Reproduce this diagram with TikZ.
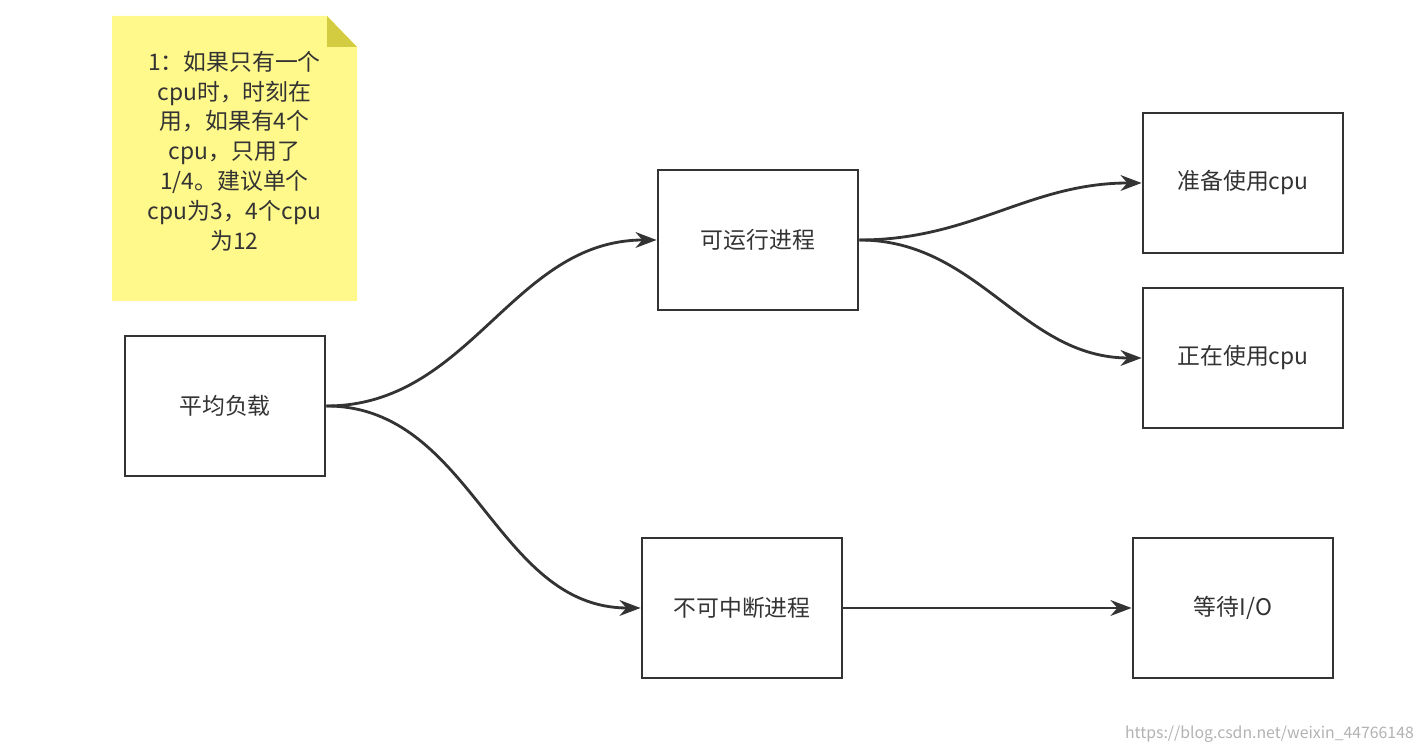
\documentclass[tikz,border=0pt]{standalone}
\usepackage{fontspec}
\setmainfont{Noto Sans CJK SC}
\usetikzlibrary{arrows.meta}
\tikzset{
	procbox/.style={draw=black!80,line width=1.6pt,minimum width=4cm,minimum height=2.8cm,font=\fontsize{13}{16}\selectfont,text=black!80},
	flow/.style={draw=black!80,line width=1.6pt,-{Stealth[length=12pt,width=9pt]}}
}
\begin{document}
\begin{tikzpicture}
	\useasboundingbox (0,0) rectangle (28.54,15.02);
		% note
		\fill[yellow!45] (2.24,9.0) -- (7.14,9.0) -- (7.14,14.08) -- (6.54,14.70) -- (2.24,14.70) -- cycle;
		\fill[yellow!45!olive!70] (6.54,14.70) -- (6.54,14.08) -- (7.14,14.08) -- cycle;
		\node[align=center,text width=4.2cm,font=\fontsize{13}{17}\selectfont,text=black!80] (note) at (4.69,12.0) {1：如果只有一个\\cpu时，时刻在\\用，如果有4个\\cpu，只用了\\1/4。建议单个\\cpu为3，4个cpu\\为12};
		
		% boxes
		\node[procbox] (avg) at (4.50,6.90) {平均负载};
		\node[procbox] (run) at (15.16,10.22) {可运行进程};
		\node[procbox] (unint) at (14.84,2.86) {不可中断进程};
		\node[procbox] (ready) at (24.86,11.36) {准备使用cpu};
		\node[procbox] (using) at (24.86,7.86) {正在使用cpu};
		\node[procbox] (wait) at (24.66,2.86) {等待I/O};
		
		% connectors
		\draw[flow] (avg.east) to[out=0,in=180] (run.west);
		\draw[flow] (avg.east) to[out=0,in=180] (unint.west);
		\draw[flow] (run.east) to[out=0,in=180] (ready.west);
		\draw[flow] (run.east) to[out=0,in=180] (using.west);
		\draw[flow] (unint.east) -- (wait.west);
		
		% watermark
		\node[anchor=south east,text=black!30,font=\fontsize{9}{10}\selectfont] (mark) at (28.4,0.05) {https://blog.csdn.net/weixin\_44766148};
\end{tikzpicture}
\end{document}
